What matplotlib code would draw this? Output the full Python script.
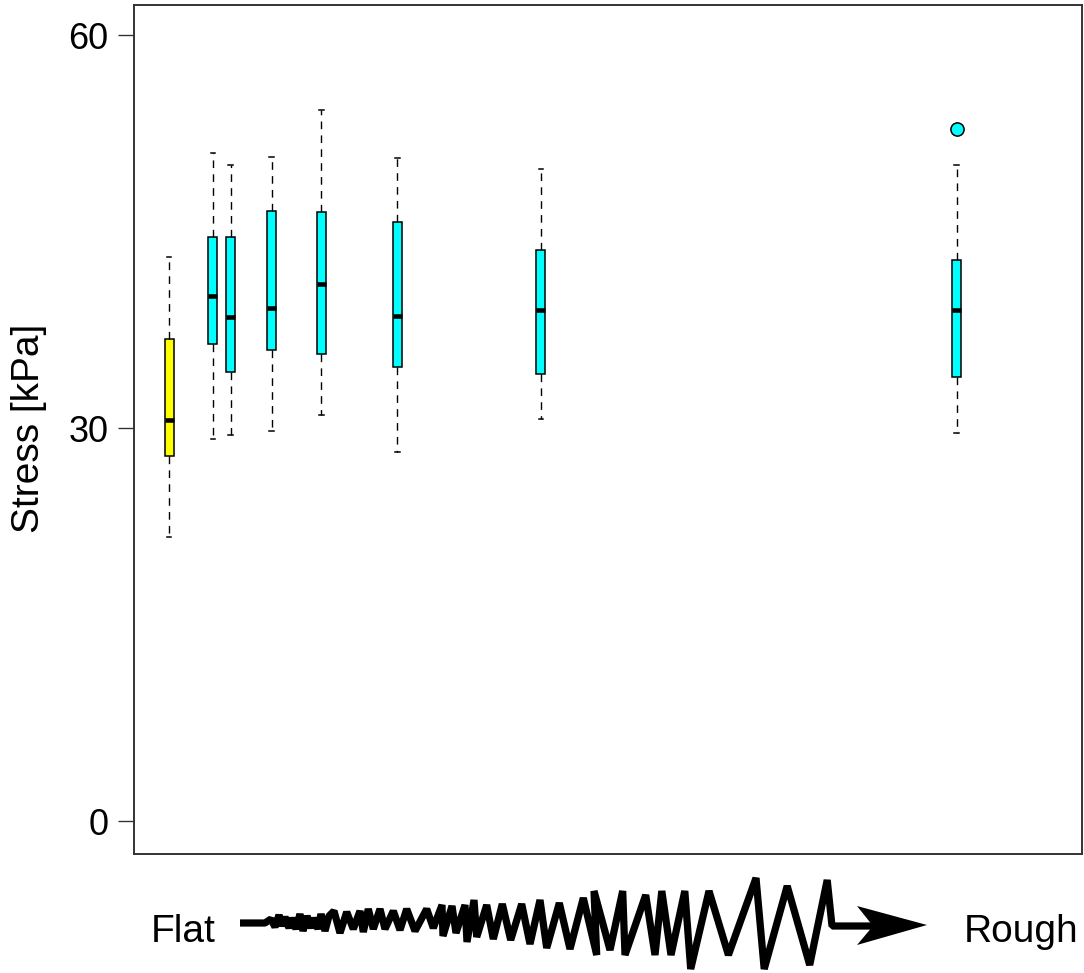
import numpy as np
import matplotlib
matplotlib.use('Agg')
import matplotlib.pyplot as plt
from matplotlib.patches import Polygon

plt.rcParams['font.family'] = ['Liberation Sans', 'DejaVu Sans']

# box positions along the flat -> rough axis
x_pos = [3.7, 8.33, 10.2, 14.53, 19.76, 27.77, 42.93, 86.78]
colors = ['#ffff00'] + ['#00ffff'] * 7

# five number summaries (kPa)
whisker_lo = [21.7, 29.2, 29.5, 29.8, 31.0, 28.2, 30.7, 29.6]
q1 = [27.9, 36.4, 34.3, 36.0, 35.7, 34.7, 34.1, 33.9]
median = [30.6, 40.1, 38.5, 39.2, 41.0, 38.6, 39.0, 39.0]
q3 = [36.8, 44.6, 44.6, 46.6, 46.5, 45.7, 43.6, 42.8]
whisker_hi = [43.1, 51.0, 50.1, 50.7, 54.3, 50.6, 49.8, 50.1]
outliers = [[], [], [], [], [], [], [], [52.8]]

# zigzag "roughness" arrow below the plot, in pixel coords of the figure
zig_x = [240, 265, 271, 275, 279, 282, 285, 289, 292, 296, 300, 303, 307, 311, 314, 318,
         321, 325, 329, 334, 340, 346.7, 353.3, 360, 363.3, 368.3, 373.3, 380, 385, 393.3,
         400, 406.7, 415, 426.7, 433.3, 442, 443, 452, 456, 465, 467, 474, 476.7, 486.7,
         493.3, 502.3, 510.7, 521.7, 530, 540, 546.7, 559.3, 570, 583.3, 596.7, 594, 610,
         622.7, 625, 645.7, 655, 661.8, 671, 684.8, 690.7, 709, 728.4, 756, 764.2, 787.2,
         809.7, 827.2, 832, 875]
zig_y = [923, 923, 919, 927, 915, 926, 917, 928, 918, 929, 914, 931, 916, 928, 918, 929,
         914, 931, 916, 911, 933, 912, 929, 911, 932, 909, 929, 909, 929, 911,
         930, 909, 931, 909, 928, 905, 936, 906, 933, 905, 942, 900, 937, 905,
         939, 904, 940, 904, 944, 900, 948, 903, 949, 898, 955, 891, 950,
         891, 955, 895, 955, 891, 955, 891, 969, 891, 955, 878, 969, 886,
         965, 880, 926, 926]
head_x = [927, 857, 873, 857]
head_y = [925, 906, 926, 945]

W, H = 1084, 973
fig = plt.figure(figsize=(W / 100, H / 100), dpi=100)

# overlay in pixel space for the arrow and its labels
deco = fig.add_axes([0, 0, 1, 1])
deco.set_xlim(0, W)
deco.set_ylim(H, 0)
deco.axis('off')
deco.plot(zig_x, zig_y, color='black', lw=5.2, solid_joinstyle='bevel', solid_capstyle='butt')
deco.add_patch(Polygon(np.column_stack([head_x, head_y]), closed=True, color='black', lw=0))
deco.text(151, 942, 'Flat', fontsize=28, ha='left', va='baseline')
deco.text(1078, 942, 'Rough', fontsize=28, ha='right', va='baseline')

ax = fig.add_axes([134 / W, 1 - 854 / H, (1082 - 134) / W, (854 - 5) / H])

stats = []
for i in range(len(x_pos)):
    stats.append(dict(whislo=whisker_lo[i], q1=q1[i], med=median[i], q3=q3[i],
                      whishi=whisker_hi[i], fliers=outliers[i]))

bp = ax.bxp(stats, positions=x_pos, widths=0.95, patch_artist=True, manage_ticks=False,
            boxprops=dict(edgecolor='black', linewidth=1.1),
            medianprops=dict(color='black', linewidth=3.3, solid_capstyle='butt'),
            whiskerprops=dict(color='black', linewidth=1.0, linestyle=(0, (5.5, 4.5))),
            capprops=dict(color='black', linewidth=1.1),
            capwidths=0.48,
            flierprops=dict(marker='o', markersize=9.5, markeredgecolor='black',
                            markeredgewidth=1.1))
for patch, c in zip(bp['boxes'], colors):
    patch.set_facecolor(c)
for fl, c in zip(bp['fliers'], colors):
    fl.set_markerfacecolor(c)

ax.set_xlim(0, 100)
ax.set_ylim(-2.5, 62.3)
ax.set_xticks([])
ax.set_yticks([0, 30, 60])
ax.tick_params(axis='y', direction='out', length=11.5, width=1.0, pad=7,
               labelsize=26, color='#333333')
for sp in ax.spines.values():
    sp.set_color('#333333')
    sp.set_linewidth(1.4)
ax.set_ylabel('Stress [kPa]', fontsize=28)
ax.yaxis.set_label_coords(-(134 - 47) / (1082 - 134), (854 - 428) / (854 - 5))

fig.savefig('out.png', dpi=100)
